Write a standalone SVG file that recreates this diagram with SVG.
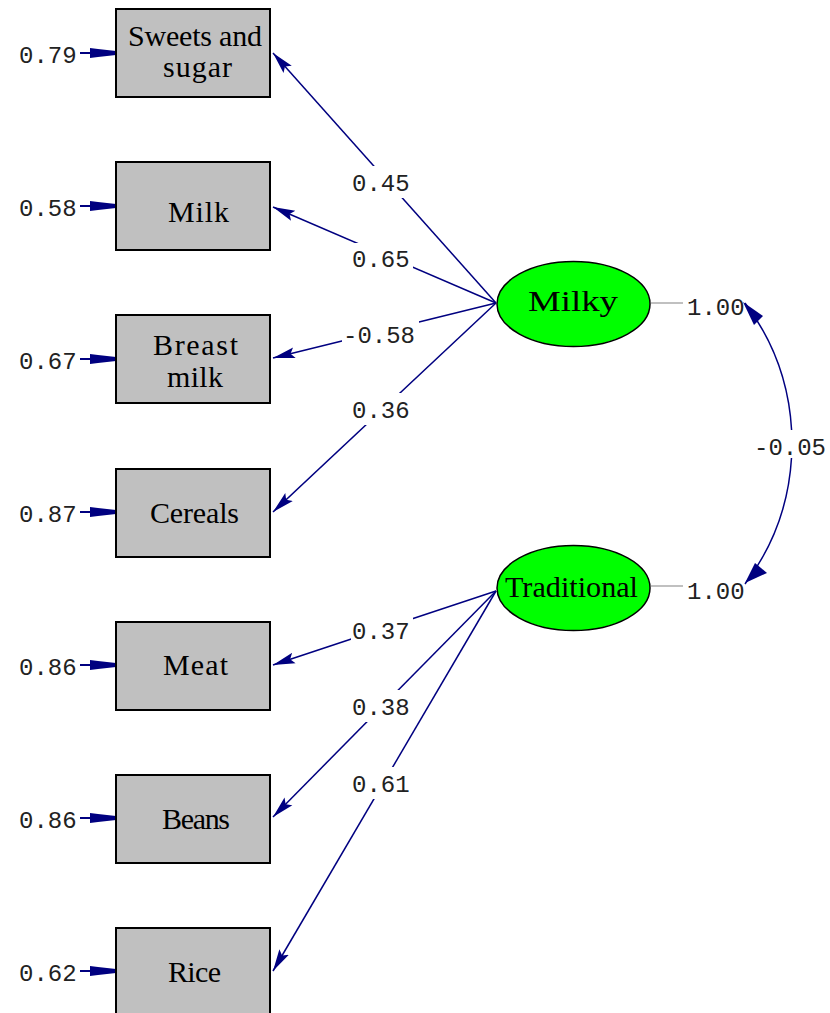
<svg xmlns="http://www.w3.org/2000/svg" width="830" height="1013" viewBox="0 0 830 1013">
<style>
.box{fill:#c0c0c0;stroke:#000;stroke-width:2}
.lat{fill:#00ff00;stroke:#000;stroke-width:1.5}
.nt{font-family:"Liberation Serif","Times New Roman",serif;font-size:30px;fill:#000}
.num{font-family:"Liberation Mono","Courier New",monospace;font-size:24px;fill:#222}
.path{stroke:#000080;stroke-width:1.5;fill:none}
.gray{stroke:#c0c0c0;stroke-width:2}
.bg{fill:#fff}
.hd{fill:#000080}
</style>
<defs>
<marker id="ah" markerWidth="24" markerHeight="14" refX="22" refY="7" orient="auto" markerUnits="userSpaceOnUse">
<path d="M0,1.5 L22,7 L0,12.5 L4,7 z" fill="#000080"/>
</marker>
<g id="errhead"><polygon points="90,-5 98,-4 116,-2 116,2 98,4 90,5" fill="#000080"/><line x1="80" y1="0" x2="116" y2="0" stroke="#000080" stroke-width="2"/></g>
</defs>
<rect width="830" height="1013" fill="#fff"/>

<g id="connectors">
<line class="path" x1="496" y1="303" x2="273" y2="53" marker-end="url(#ah)"/>
<line class="path" x1="496" y1="303" x2="273" y2="207" marker-end="url(#ah)"/>
<line class="path" x1="496" y1="303" x2="273" y2="358" marker-end="url(#ah)"/>
<line class="path" x1="496" y1="303" x2="273" y2="512" marker-end="url(#ah)"/>
<line class="path" x1="496" y1="591" x2="273" y2="665" marker-end="url(#ah)"/>
<line class="path" x1="496" y1="591" x2="273" y2="817" marker-end="url(#ah)"/>
<line class="path" x1="496" y1="591" x2="273" y2="971" marker-end="url(#ah)"/>
<line class="gray" x1="651" y1="303" x2="683" y2="303"/>
<line class="gray" x1="651" y1="586" x2="683" y2="586"/>
<path class="path" d="M745,303 A232,232 0 0 1 791.6,430"/>
<path class="path" d="M791.5,458 A232,232 0 0 1 745,584"/>
<polygon class="hd" points="743,302 763,316 754,325"/>
<polygon class="hd" points="745,583 767,573 755,563"/>
<use href="#errhead" y="53"/>
<use href="#errhead" y="206"/>
<use href="#errhead" y="359"/>
<use href="#errhead" y="512"/>
<use href="#errhead" y="665"/>
<use href="#errhead" y="818"/>
<use href="#errhead" y="971"/>
</g>

<g id="labels">
<rect class="bg" x="351" y="166" width="62" height="32"/><text class="num" x="352" y="191">0.45</text>
<rect class="bg" x="351" y="243" width="62" height="31"/><text class="num" x="352" y="267">0.65</text>
<rect class="bg" x="342" y="318" width="77" height="32"/><text class="num" x="343" y="343">-0.58</text>
<rect class="bg" x="351" y="393" width="62" height="32"/><text class="num" x="352" y="418">0.36</text>
<rect class="bg" x="351" y="614" width="62" height="32"/><text class="num" x="352" y="639">0.37</text>
<rect class="bg" x="351" y="690" width="62" height="32"/><text class="num" x="352" y="715">0.38</text>
<rect class="bg" x="351" y="767" width="62" height="32"/><text class="num" x="352" y="792">0.61</text>
<text class="num" x="687" y="315">1.00</text>
<text class="num" x="687" y="599">1.00</text>
<text class="num" x="754" y="455">-0.05</text>
<text class="num" x="19" y="63">0.79</text>
<text class="num" x="19" y="216">0.58</text>
<text class="num" x="19" y="369">0.67</text>
<text class="num" x="19" y="522">0.87</text>
<text class="num" x="19" y="675">0.86</text>
<text class="num" x="19" y="828">0.86</text>
<text class="num" x="19" y="981">0.62</text>
</g>

<g id="n-sweets"><rect class="box" x="116" y="9" width="154" height="88"/><text class="nt" x="128" y="46" textLength="134" lengthAdjust="spacing">Sweets and</text><text class="nt" x="163" y="77" textLength="69" lengthAdjust="spacing">sugar</text></g>
<g id="n-milk"><rect class="box" x="116" y="162" width="154" height="88"/><text class="nt" x="168" y="222" textLength="61" lengthAdjust="spacing">Milk</text></g>
<g id="n-breast"><rect class="box" x="116" y="315" width="154" height="88"/><text class="nt" x="153" y="355" textLength="85" lengthAdjust="spacing">Breast</text><text class="nt" x="167" y="387" textLength="56" lengthAdjust="spacing">milk</text></g>
<g id="n-cereals"><rect class="box" x="116" y="469" width="154" height="88"/><text class="nt" x="150" y="523" textLength="89" lengthAdjust="spacing">Cereals</text></g>
<g id="n-meat"><rect class="box" x="116" y="622" width="154" height="88"/><text class="nt" x="163" y="675" textLength="65" lengthAdjust="spacing">Meat</text></g>
<g id="n-beans"><rect class="box" x="116" y="775" width="154" height="88"/><text class="nt" x="162" y="829" textLength="68" lengthAdjust="spacing">Beans</text></g>
<g id="n-rice"><rect class="box" x="116" y="928" width="154" height="95"/><text class="nt" x="168" y="982" textLength="53" lengthAdjust="spacing">Rice</text></g>
<g id="n-milky"><ellipse class="lat" cx="573.5" cy="304" rx="76.5" ry="42.5"/><text class="nt" x="528" y="311" textLength="90" lengthAdjust="spacingAndGlyphs">Milky</text></g>
<g id="n-traditional"><ellipse class="lat" cx="573.5" cy="588" rx="76.5" ry="42.5"/><text class="nt" x="505" y="597" textLength="133" lengthAdjust="spacingAndGlyphs">Traditional</text></g>
</svg>
